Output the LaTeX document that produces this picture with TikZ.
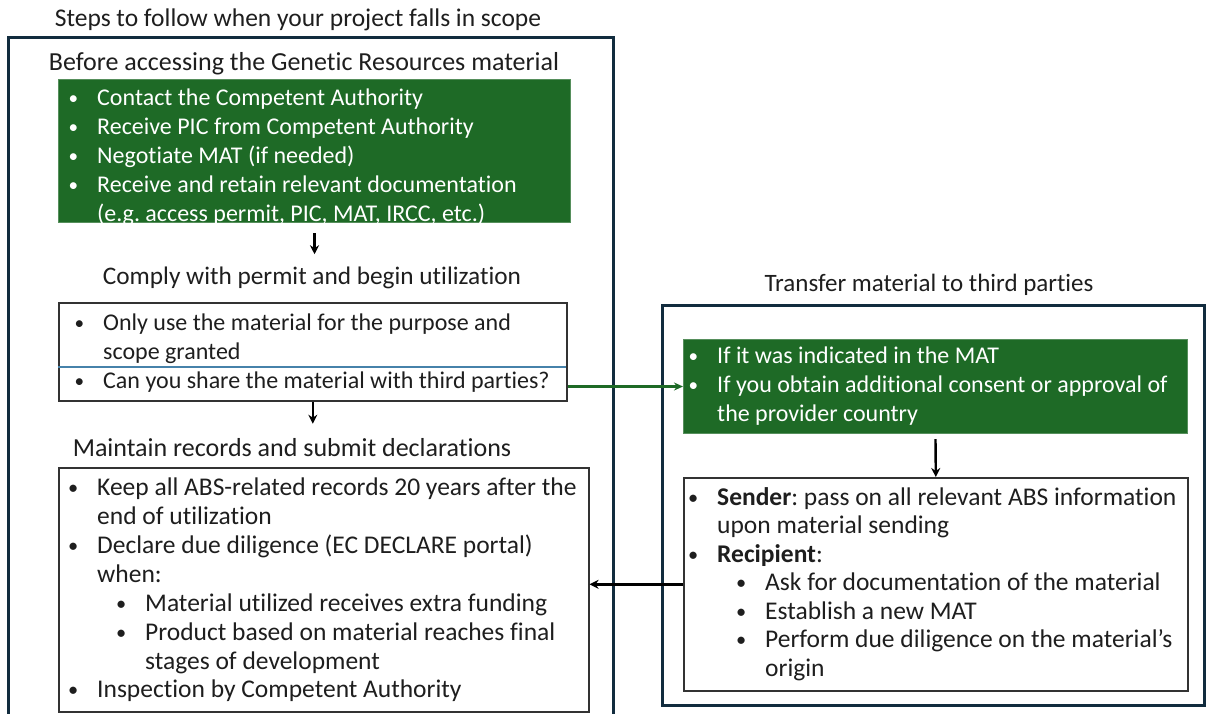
\documentclass[tikz,border=0pt]{standalone}
\usepackage{fontspec}
\setmainfont{Carlito}[Ligatures={NoCommon,NoContextual},RawFeature={-liga;-calt;-dlig;-clig}]
\usetikzlibrary{arrows.meta}
\definecolor{gbox}{RGB}{30,106,38}
\definecolor{navy}{RGB}{18,44,62}
\definecolor{divblue}{RGB}{70,130,170}
\definecolor{txt}{RGB}{30,30,30}
\frenchspacing
\newcommand\mybul{\llap{\raisebox{1pt}{\scalebox{0.8}{\textbullet}}\hspace{19pt}}}
\begin{document}
\begin{tikzpicture}[x=1pt,y=-1pt,
  every node/.style={font=\fontsize{25.5}{29}\selectfont},
  frame/.style={draw=navy,line width=3pt},
  greenbox/.style={fill=gbox,draw=gbox!75!white,line width=1pt,anchor=north west,inner sep=0},
  whitebox/.style={draw=black!80,line width=1.6pt,fill=white,anchor=north west,inner sep=0},
  heading/.style={anchor=base,inner sep=0,text=txt,font=\fontsize{26}{29}\selectfont},
  ln/.style={anchor=base west,inner sep=0,text=txt},
  sm/.style={font=\fontsize{24}{29}\selectfont},
  wln/.style={anchor=base west,inner sep=0,text=white,sm},
  arr/.style={-{Stealth[length=9pt,width=9pt]},line width=2.4pt,black},
  garr/.style={-{Stealth[length=9pt,width=8pt]},line width=2.2pt,gbox}
]
\useasboundingbox (0,0) rectangle (1209,713);
\fill[white] (0,0) rectangle (1209,713);

% outer frames
\draw[frame] (8,716) -- (8,37) -- (613,37) -- (613,716);
\draw[frame] (662,305) rectangle (1204,705);

% headings
\node[heading,font=\fontsize{25.5}{29}\selectfont] (h0) at (298,26) {Steps to follow when your project falls in scope};
\node[heading] (h1) at (304,70) {Before accessing the Genetic Resources material};
\node[heading,font=\fontsize{25.3}{29}\selectfont] (h2) at (312,284) {Comply with permit and begin utilization};
\node[heading] (h3) at (292,456) {Maintain records and submit declarations};
\node[heading,font=\fontsize{25}{29}\selectfont] (h4) at (929,291) {Transfer material to third parties};

% boxes
\node[greenbox,minimum width=512,minimum height=143] (g1) at (58,79) {};
\node[whitebox,minimum width=508,minimum height=98] (b2) at (58,302) {};
\node[whitebox,minimum width=530,minimum height=244] (b3) at (58,467) {};
\node[greenbox,minimum width=504,minimum height=94] (g2) at (683,339) {};
\node[whitebox,minimum width=504,minimum height=213] (b4) at (683,477) {};

% divider in box 2
\draw[divblue,line width=1.3pt] (58,367) -- (566,367);

% green box 1 text
\node[wln] (g1a) at (97,105) {\mybul Contact the Competent Authority};
\node[wln] (g1b) at (97,134) {\mybul Receive PIC from Competent Authority};
\node[wln] (g1c) at (97,163) {\mybul Negotiate MAT (if needed)};
\node[wln] (g1d) at (97,192) {\mybul Receive and retain relevant documentation};
\node[wln] (g1e) at (97,221) {(e.g. access permit, PIC, MAT, IRCC, etc.)};

% box 2 text
\node[ln,sm] (b2a) at (103,330) {\mybul Only use the material for the purpose and};
\node[ln,sm] (b2b) at (103,359) {scope granted};
\node[ln,sm] (b2c) at (103,388) {\mybul Can you share the material with third parties?};

% box 3 text
\node[ln] (b3a) at (97,495) {\mybul Keep all ABS-related records 20 years after the};
\node[ln] (b3b) at (97,524) {end of utilization};
\node[ln] (b3c) at (97,553) {\mybul Declare due diligence (EC DECLARE portal)};
\node[ln] (b3d) at (97,582) {when:};
\node[ln] (b3e) at (145,611) {\mybul Material utilized receives extra funding};
\node[ln] (b3f) at (145,640) {\mybul Product based on material reaches final};
\node[ln] (b3g) at (145,669) {stages of development};
\node[ln] (b3h) at (97,697) {\mybul Inspection by Competent Authority};

% green box 2 text
\node[wln] (g2a) at (717,363) {\mybul If it was indicated in the MAT};
\node[wln] (g2b) at (717,392) {\mybul If you obtain additional consent or approval of};
\node[wln] (g2c) at (717,421) {the provider country};

% box 4 text
\node[ln] (b4a) at (717,505) {\mybul\textbf{Sender}: pass on all relevant ABS information};
\node[ln] (b4b) at (717,533.5) {upon material sending};
\node[ln] (b4c) at (717,562) {\mybul\textbf{Recipient}:};
\node[ln] (b4d) at (765,590.5) {\mybul Ask for documentation of the material};
\node[ln] (b4e) at (765,619) {\mybul Establish a new MAT};
\node[ln] (b4f) at (765,647.5) {\mybul Perform due diligence on the material’s};
\node[ln] (b4g) at (765,676) {origin};

% connectors
\draw[arr] ([yshift=-10pt]g1.south) -- ([yshift=12pt]g1.south |- h2.north);
\draw[arr] (b2.south) -- ([yshift=14pt]b2.south |- h3.north);
\draw[arr] ([yshift=-5pt]g2.south) -- (b4.north);
\draw[garr] (b2.east |- g2.west) -- (g2.west);
\draw[arr] (b4.west) -- (b4.west -| b3.east);
\end{tikzpicture}
\end{document}
